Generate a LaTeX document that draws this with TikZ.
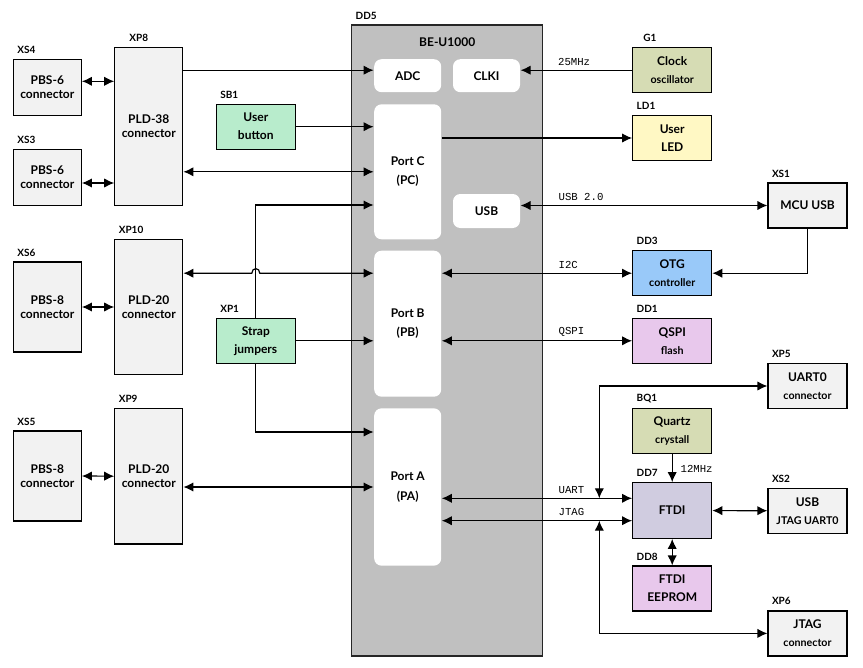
\documentclass[tikz,border=0pt]{standalone}
\usepackage{fontspec}
\setmainfont{Lato}
\newfontfamily\sigfont{Liberation Mono}
\usetikzlibrary{arrows.meta}

\definecolor{boxgray}{HTML}{F2F2F2}
\definecolor{chipgray}{HTML}{C0C0C0}
\definecolor{keygreen}{HTML}{B8ECCC}
\definecolor{clkolive}{HTML}{D6DCB4}
\definecolor{ledyellow}{HTML}{FFF8C4}
\definecolor{otgblue}{HTML}{99C9F9}
\definecolor{memlilac}{HTML}{E8C8EC}
\definecolor{ftdiviolet}{HTML}{D0CCE0}

\newcommand{\sml}[1]{{\fontsize{8}{9}\selectfont #1}}

\begin{document}
\begin{tikzpicture}[x=0.75pt, y=-0.75pt, line width=0.9pt,
    >={Latex[length=7.5pt,width=7pt]},
    blk/.style={draw, fill=boxgray, align=center, inner sep=1pt,
        font=\bfseries\fontsize{9}{10.5}\selectfont},
    conn/.style={blk, minimum width=51pt},
    unit/.style={blk, minimum width=59.25pt, minimum height=33.75pt},
    port/.style={fill=white, rounded corners=5.5pt, align=center, inner sep=1pt,
        minimum width=50.25pt, font=\bfseries\fontsize{9}{10.5}\selectfont},
    tag/.style 2 args={label={[anchor=south west, inner sep=0pt, xshift=#2, yshift=3.5pt,
        font=\bfseries\fontsize{7.5}{9}\selectfont]north west:#1}},
    sig/.style={anchor=west, inner sep=0pt, font=\sigfont\fontsize{8}{9}\selectfont}]
    \useasboundingbox (0,0) rectangle (863,667);

    % Processor
    \node[draw=black!85, fill=chipgray, minimum width=143.25pt, minimum height=473.25pt,
        tag={DD5}{3pt}] (DD5) at (447.2,340.5) {};
    \node[font=\bfseries\fontsize{9}{10.5}\selectfont] (chip) at (447.2,41.7) {BE-U1000};
    \node[port, minimum height=24.75pt] (ADC) at (407.7,75.7) {ADC};
    \node[port, minimum height=24.75pt] (CLKI) at (486.5,75.7) {CLKI};
    \node[port, minimum height=101.25pt] (PortC) at (407.7,171.8) {Port C\\[4pt](PC)};
    \node[port, minimum height=25.5pt] (USB) at (486.5,211) {USB};
    \node[port, minimum height=109.5pt] (PortB) at (407.7,323.7) {Port B\\[4pt](PB)};
    \node[port, minimum height=118pt] (PortA) at (407.7,487) {Port A\\[4pt](PA)};

    % Left connectors
    \node[conn, minimum height=42pt, tag={XS4}{3pt}] (XS4) at (47.3,87.3) {PBS-6\\connector};
    \node[conn, minimum height=42pt, tag={XS3}{3pt}] (XS3) at (47.3,177.2) {PBS-6\\connector};
    \node[conn, minimum height=67.5pt, tag={XS6}{3pt}] (XS6) at (47.3,307) {PBS-8\\connector};
    \node[conn, minimum height=67.5pt, tag={XS5}{3pt}] (XS5) at (47.3,476) {PBS-8\\connector};
    \node[conn, minimum height=118.2pt, tag={XP8}{11pt}] (XP8) at (148.8,126.5) {PLD-38\\connector};
    \node[conn, minimum height=101.6pt, tag={XP10}{3pt}] (XP10) at (148.8,307) {PLD-20\\connector};
    \node[conn, minimum height=101.6pt, tag={XP9}{3pt}] (XP9) at (148.8,476.2) {PLD-20\\connector};

    \node[unit, fill=keygreen, tag={SB1}{3pt}] (SB1) at (255.8,126.7) {User\\[3pt]button};
    \node[unit, fill=keygreen, tag={XP1}{3pt}] (XP1) at (255.8,340.8) {Strap\\[3pt]jumpers};

    % Right side
    \node[unit, fill=clkolive, tag={G1}{8pt}] (G1) at (672.2,70.2) {Clock\\[3pt]\sml{oscillator}};
    \node[unit, fill=ledyellow, tag={LD1}{3pt}] (LD1) at (672.2,138) {User\\[3pt]LED};
    \node[unit, fill=otgblue, tag={DD3}{3pt}] (DD3) at (672.2,273.2) {OTG\\[3pt]\sml{controller}};
    \node[unit, fill=memlilac, tag={DD1}{3pt}] (DD1) at (672.2,340.8) {QSPI\\[3pt]\sml{flash}};
    \node[unit, fill=clkolive, tag={BQ1}{3pt}] (BQ1) at (672.2,430.8) {Quartz\\[3pt]\sml{crystall}};
    \node[unit, fill=ftdiviolet, minimum height=41.7pt, tag={DD7}{3pt}] (DD7) at (672.2,510.5) {FTDI};
    \node[unit, fill=memlilac, tag={DD8}{3pt}] (DD8) at (672.2,588.5) {FTDI\\[3pt]EEPROM};

    \node[unit, tag={XS1}{3pt}] (XS1) at (807.5,205.5) {MCU USB};
    \node[unit, tag={XP5}{3pt}] (XP5) at (807.5,386) {UART0\\[3pt]\sml{connector}};
    \node[unit, tag={XS2}{3pt}] (XS2) at (807.5,510.8) {USB\\[3pt]\sml{JTAG UART0}};
    \node[unit, tag={XP6}{3pt}] (XP6) at (807.5,633.4) {JTAG\\[3pt]\sml{connector}};

    % Left links
    \draw[<->] (XS4.east |- 0,81.3) -- (XP8.west |- 0,81.3);
    \draw[<->] (XS3.east |- 0,183) -- (XP8.west |- 0,183);
    \draw[<->] (XS6.east) -- (XP10.west);
    \draw[<->] (XS5.east) -- (XP9.west);

    \draw[->] (XP8.east |- G1.west) -- (ADC.west |- G1.west);
    \draw[<->] (XP8.east |- PortC.west) -- (PortC.west);
    \draw[->] (SB1.east) -- (SB1.east -| PortC.west);
    \draw[->] (XP1.north) |- (PortC.west |- 0,205);
    \draw[->] (XP1.east) -- (XP1.east -| PortB.west);
    \draw[->] (XP1.south) |- (PortA.west |- 0,432);
    \draw[<->] (XP9.east |- PortA.west) -- (PortA.west);
    % jump over the strap line
    \coordinate (hop) at (XP1.north |- DD3.west);
    \draw[<->] (PortB.west |- DD3.west) -- ([xshift=3pt]hop)
        .. controls +(0,-6) and +(0,-6) .. ([xshift=-3pt]hop) -- (XP10.east |- DD3.west);

    % Right links
    \draw[->] (G1.west) -- (G1.west -| CLKI.east);
    \draw[->] (PortC.east |- LD1.west) -- (LD1.west);
    \draw[<->] (USB.east |- XS1.west) -- (XS1.west);
    \draw[->] (XS1.south) |- (DD3.east);
    \draw[<->] (PortB.east |- DD3.west) -- (DD3.west);
    \draw[<->] (PortB.east |- DD1.west) -- (DD1.west);
    \draw[<->] (PortA.east |- 0,498.3) -- (DD7.west |- 0,498.3);
    \draw[<->] (PortA.east |- 0,520.7) -- (DD7.west |- 0,520.7);
    \coordinate (uartTap) at (599.3,498.3);
    \coordinate (jtagTap) at (599.3,520.7);
    \draw[<->] (uartTap) |- (XP5.west);
    \draw[<->] (jtagTap) |- (XP6.west);
    \draw[->] (BQ1) -- (DD7);
    \draw[<->] (DD7) -- (XS2);
    \draw[<->] (DD7) -- (DD8);

    % Signal names
    \node[sig] (s25) at (557.5,62) {25MHz};
    \node[sig] (susb) at (558,197) {USB 2.0};
    \node[sig] (si2c) at (558,264.5) {I2C};
    \node[sig] (sqspi) at (558,332) {QSPI};
    \node[sig] (suart) at (558,490) {UART};
    \node[sig] (sjtag) at (558,512.3) {JTAG};
    \node[sig] (s12) at (680,469) {12MHz};
\end{tikzpicture}
\end{document}
